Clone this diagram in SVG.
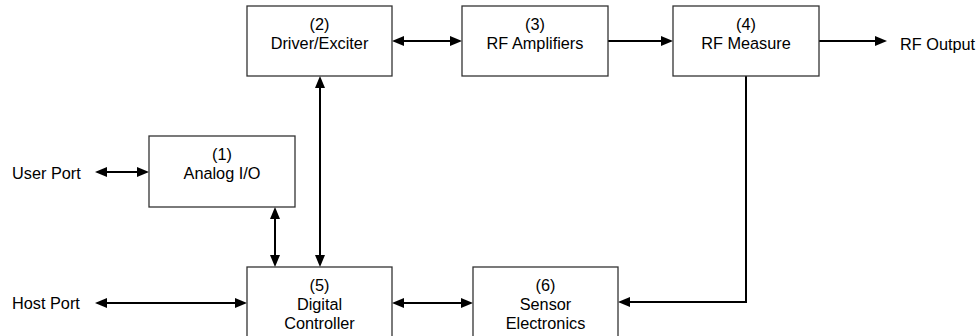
<svg xmlns="http://www.w3.org/2000/svg" width="979" height="336" viewBox="0 0 979 336">
<defs>
<marker id="ah" markerUnits="userSpaceOnUse" markerWidth="12" markerHeight="10" viewBox="0 0 12 10" refX="6" refY="5" orient="auto-start-reverse">
<path d="M0,0 L12,5 L0,10 z" fill="#000"/>
</marker>
<style>
.box{fill:#fff;stroke:#333;stroke-width:1.3}
.t{font-family:"Liberation Sans",Arial,sans-serif;font-size:16.3px;fill:#000;text-anchor:middle}
.l{font-family:"Liberation Sans",Arial,sans-serif;font-size:16.3px;fill:#000}
.c{fill:none;stroke:#000;stroke-width:2}
</style>
</defs>
<rect width="979" height="336" fill="#fff"/>
<g id="connectors">
<line class="c" x1="101" y1="172" x2="143" y2="172" marker-start="url(#ah)" marker-end="url(#ah)"/>
<line class="c" x1="101" y1="303" x2="241" y2="303" marker-start="url(#ah)" marker-end="url(#ah)"/>
<line class="c" x1="275" y1="213" x2="275" y2="261" marker-start="url(#ah)" marker-end="url(#ah)"/>
<line class="c" x1="320" y1="82" x2="320" y2="261" marker-start="url(#ah)" marker-end="url(#ah)"/>
<line class="c" x1="398" y1="41" x2="456" y2="41" marker-start="url(#ah)" marker-end="url(#ah)"/>
<line class="c" x1="608" y1="41" x2="667" y2="41" marker-end="url(#ah)"/>
<line class="c" x1="819" y1="41" x2="881" y2="41" marker-end="url(#ah)"/>
<polyline class="c" points="746,76 746,302 624,302" marker-end="url(#ah)"/>
<line class="c" x1="398" y1="303" x2="467" y2="303" marker-start="url(#ah)" marker-end="url(#ah)"/>
</g>
<g id="node1">
<rect class="box" x="149" y="136" width="146" height="71"/>
<text class="t" x="222" y="160">(1)</text>
<text class="t" x="222" y="179">Analog I/O</text>
</g>
<g id="node2">
<rect class="box" x="247" y="6" width="145" height="70"/>
<text class="t" x="319.5" y="30">(2)</text>
<text class="t" x="319.5" y="49">Driver/Exciter</text>
</g>
<g id="node3">
<rect class="box" x="462" y="6" width="146" height="70"/>
<text class="t" x="535" y="30">(3)</text>
<text class="t" x="535" y="49">RF Amplifiers</text>
</g>
<g id="node4">
<rect class="box" x="673" y="6" width="146" height="70"/>
<text class="t" x="746" y="30">(4)</text>
<text class="t" x="746" y="49">RF Measure</text>
</g>
<g id="node5">
<rect class="box" x="247" y="267" width="145" height="75"/>
<text class="t" x="319.5" y="291">(5)</text>
<text class="t" x="319.5" y="310">Digital</text>
<text class="t" x="319.5" y="329">Controller</text>
</g>
<g id="node6">
<rect class="box" x="473" y="267" width="145" height="75"/>
<text class="t" x="545.5" y="291">(6)</text>
<text class="t" x="545.5" y="310">Sensor</text>
<text class="t" x="545.5" y="329">Electronics</text>
</g>
<g id="labels">
<text class="l" x="12" y="179">User Port</text>
<text class="l" x="12" y="309">Host Port</text>
<text class="l" x="900" y="50">RF Output</text>
</g>
</svg>
